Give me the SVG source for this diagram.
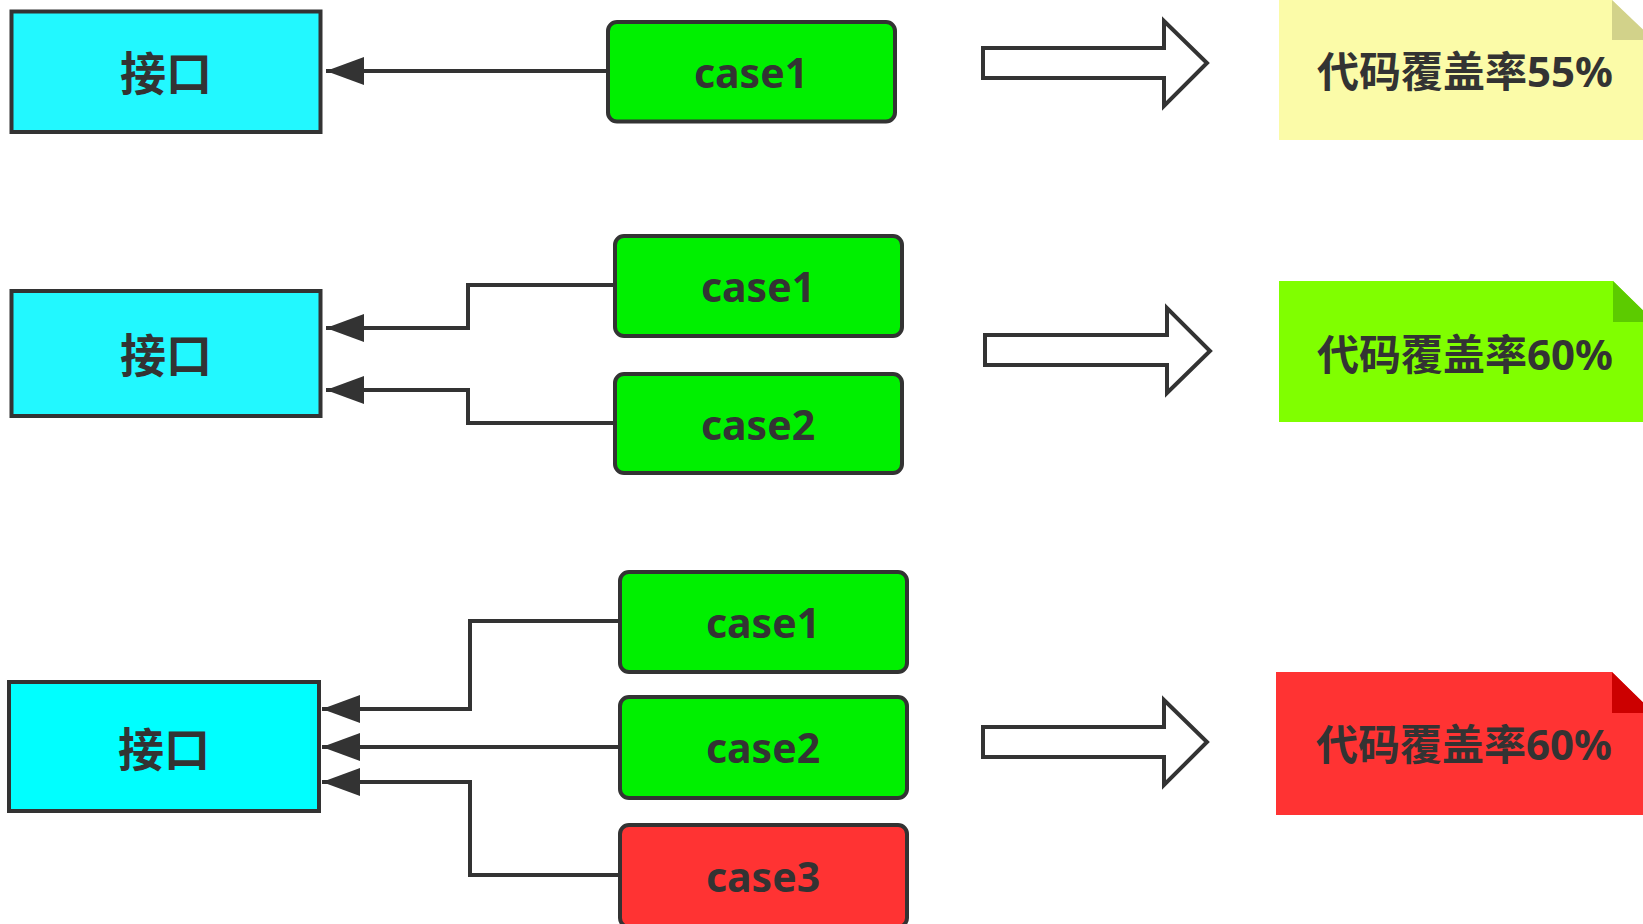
<svg xmlns="http://www.w3.org/2000/svg" width="1643" height="924" viewBox="0 0 1643 924">
<style>
.iface{fill:#22F8FF;stroke:#333;stroke-width:4}
.case{stroke:#333;stroke-width:4}
.green{fill:#00F000}
.red{fill:#FF3333}
.lbl{font-family:"Noto Sans","Noto Sans CJK SC",sans-serif;font-weight:bold;fill:#333;text-anchor:middle;dominant-baseline:central}
.conn{fill:none;stroke:#333;stroke-width:4;marker-end:url(#ah)}
.big{fill:#FFFFFF;stroke:#333;stroke-width:4;stroke-linejoin:miter}
</style>
<defs>
<marker id="ah" viewBox="0 0 38 28" refX="38" refY="14" markerWidth="38" markerHeight="28" markerUnits="userSpaceOnUse" orient="auto">
<path d="M0,0 L38,14 L0,28 Z" fill="#333"/>
</marker>
</defs>
<rect width="1643" height="924" fill="#FFFFFF"/>

<g id="connectors">
<path class="conn" d="M608,71 L326,71"/>
<path class="conn" d="M615,285 L468,285 L468,328 L326,328"/>
<path class="conn" d="M615,423 L468,423 L468,390 L326,390"/>
<path class="conn" d="M620,621 L470,621 L470,709 L322,709"/>
<path class="conn" d="M620,747 L322,747"/>
<path class="conn" d="M620,875 L470,875 L470,782 L322,782"/>
<path class="big" d="M983,48 L1164,48 L1164,21 L1207,63 L1164,106 L1164,78 L983,78 Z"/>
<path class="big" d="M985,335 L1167,335 L1167,308 L1210,351 L1167,393 L1167,365 L985,365 Z"/>
<path class="big" d="M983,727 L1164,727 L1164,700 L1207,742 L1164,785 L1164,757 L983,757 Z"/>
</g>

<g id="iface1">
<rect class="iface" x="11.5" y="11.5" width="309" height="120.5"/>
<text class="lbl" x="166" y="72" font-size="46">接口</text>
</g>
<g id="iface2">
<rect class="iface" x="11.5" y="291" width="309" height="125"/>
<text class="lbl" x="166" y="354" font-size="46">接口</text>
</g>
<g id="iface3">
<rect class="iface" x="9" y="682" width="310" height="129" style="fill:#00FFFF"/>
<text class="lbl" x="164" y="748" font-size="46">接口</text>
</g>

<g id="r1case1">
<rect class="case green" x="608" y="22" width="287" height="99.5" rx="9"/>
<text class="lbl" x="751" y="72" font-size="41">case1</text>
</g>
<g id="r2case1">
<rect class="case green" x="615" y="236" width="287" height="100" rx="9"/>
<text class="lbl" x="758" y="286" font-size="41">case1</text>
</g>
<g id="r2case2">
<rect class="case green" x="615" y="374" width="287" height="99" rx="9"/>
<text class="lbl" x="758" y="424" font-size="41">case2</text>
</g>
<g id="r3case1">
<rect class="case green" x="620" y="572" width="287" height="100" rx="9"/>
<text class="lbl" x="763" y="622" font-size="41">case1</text>
</g>
<g id="r3case2">
<rect class="case green" x="620" y="697" width="287" height="101" rx="9"/>
<text class="lbl" x="763" y="747" font-size="41">case2</text>
</g>
<g id="r3case3">
<rect class="case red" x="620" y="825" width="287" height="102" rx="9"/>
<text class="lbl" x="763" y="876" font-size="41">case3</text>
</g>

<g id="note1">
<path d="M1279,0 L1612,0 L1654,42 L1654,140 L1279,140 Z" fill="#FBFBA8"/>
<path d="M1612,0 L1612,40 L1654,40 Z" fill="#D2D28A"/>
<text class="lbl" x="1465" y="70" font-size="42">代码覆盖率55%</text>
</g>
<g id="note2">
<path d="M1279,281 L1613,281 L1655,323 L1655,422 L1279,422 Z" fill="#80FF00"/>
<path d="M1613,281 L1613,322 L1655,322 Z" fill="#5CCB00"/>
<text class="lbl" x="1465" y="353" font-size="42">代码覆盖率60%</text>
</g>
<g id="note3">
<path d="M1276,672 L1612,672 L1654,714 L1654,815 L1276,815 Z" fill="#FF3333"/>
<path d="M1612,672 L1612,713 L1654,713 Z" fill="#CC0000"/>
<text class="lbl" x="1464" y="743" font-size="42">代码覆盖率60%</text>
</g>
</svg>
